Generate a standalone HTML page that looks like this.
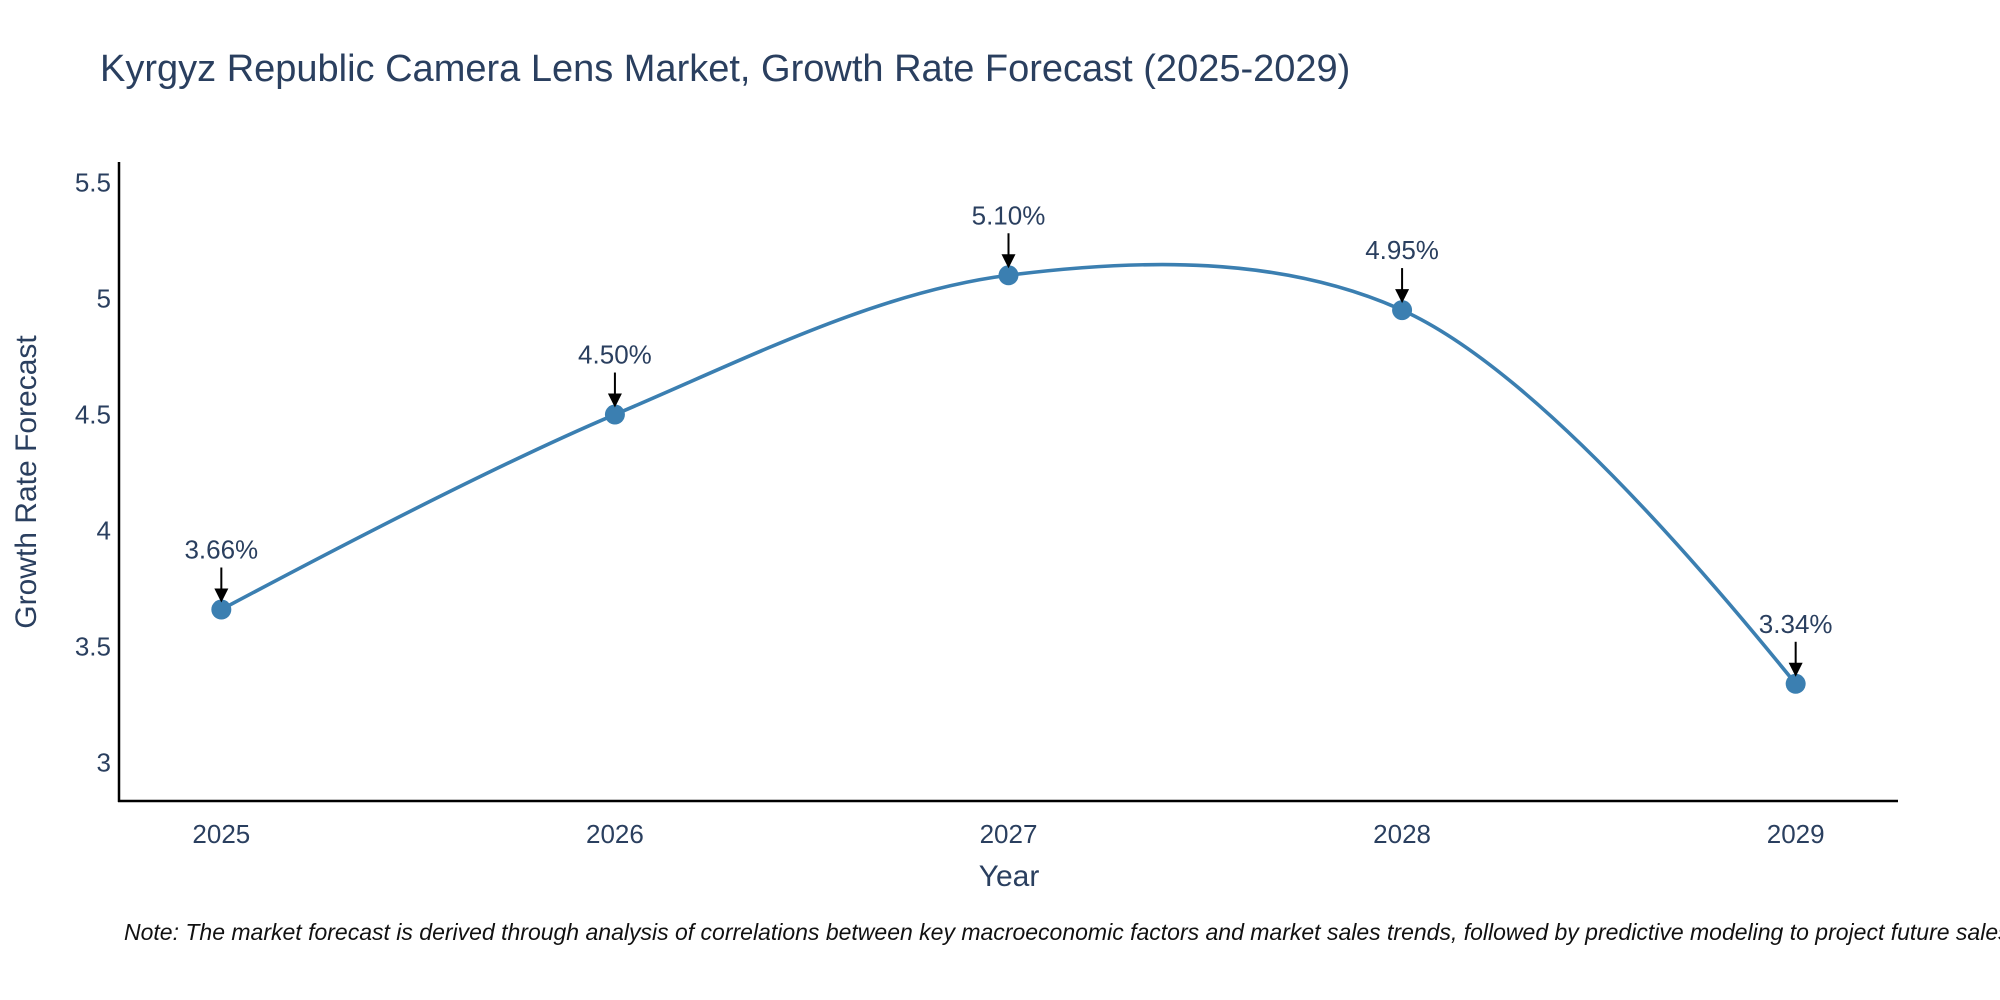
<!DOCTYPE html>
<html><head><meta charset="utf-8"><style>
html,body{margin:0;padding:0;background:#fff;}
svg{display:block;font-family:"Liberation Sans",sans-serif;}
</style></head><body>
<svg id="chart" width="2000" height="1000" viewBox="0 0 2000 1000">
<rect width="2000" height="1000" fill="#fff"/>
<text x="100" y="81" font-size="38" fill="#2a3f5f">Kyrgyz Republic Camera Lens Market, Growth Rate Forecast (2025-2029)</text>
<g id="axes"></g>
<g id="series"></g>
<g id="annots"></g>
<text x="1009" y="886" font-size="30" fill="#2a3f5f" text-anchor="middle">Year</text>
<text transform="translate(36,482) rotate(-90)" font-size="30" fill="#2a3f5f" text-anchor="middle">Growth Rate Forecast</text>
<text x="124" y="940" font-size="23" font-style="italic" fill="#111">Note: The market forecast is derived through analysis of correlations between key macroeconomic factors and market sales trends, followed by predictive modeling to project future sales.</text>
</svg>
<script>
const years = [2025, 2026, 2027, 2028, 2029];
const rates = [3.66, 4.50, 5.10, 4.95, 3.34];
const rateLabels = ["3.66%", "4.50%", "5.10%", "4.95%", "3.34%"];
const yTicks = [3, 3.5, 4, 4.5, 5, 5.5];
const yTickLabels = ["3", "3.5", "4", "4.5", "5", "5.5"];

const NS = "http://www.w3.org/2000/svg";
const L = 119, R = 1898, T = 162, B = 801;
const xMin = 2024.74, xMax = 2029.26, yMin = 2.835, yMax = 5.588;
const xs = v => L + (v - xMin) / (xMax - xMin) * (R - L);
const ys = v => B - (v - yMin) / (yMax - yMin) * (B - T);
function mk(tag, attrs, parent){const e=document.createElementNS(NS,tag);for(const k in attrs)e.setAttribute(k,attrs[k]);parent.appendChild(e);return e;}
const axes = document.getElementById('axes');
let el = mk('line',{x1:L,y1:T,x2:L,y2:B+1,stroke:'#000','stroke-width':2.5},axes);


el = mk('line',{x1:L-1,y1:B,x2:R,y2:B,stroke:'#000','stroke-width':2.5},axes);


yTicks.forEach((t,i)=>{
  const e = mk('text',{x:L-8,y:ys(t)+9,'font-size':26,fill:'#2a3f5f','text-anchor':'end'},axes);
  e.textContent = yTickLabels[i];
  
  
});
years.forEach(y=>{
  const e = mk('text',{x:xs(y),y:B+42,'font-size':26,fill:'#2a3f5f','text-anchor':'middle'},axes);
  e.textContent = String(y);
  
  
});
const P = years.map((y,i)=>[xs(y), ys(rates[i])]);
const s = 1;
let d = `M${P[0][0]},${P[0][1]}`;
const tang = [];
for(let i=0;i<P.length;i++){
  if(i===0||i===P.length-1){tang.push(null);continue;}
  const dx1=P[i][0]-P[i-1][0], dy1=P[i][1]-P[i-1][1], dx2=P[i+1][0]-P[i][0], dy2=P[i+1][1]-P[i][1];
  const d1=Math.sqrt(Math.hypot(dx1,dy1)), d2=Math.sqrt(Math.hypot(dx2,dy2));
  const numx=(d2*d2*dx1+d1*d1*dx2)*s, numy=(d2*d2*dy1+d1*d1*dy2)*s;
  const den1=3*d2*(d1+d2), den2=3*d1*(d1+d2);
  tang.push([[P[i][0]-numx/den1,P[i][1]-numy/den1],[P[i][0]+numx/den2,P[i][1]+numy/den2]]);
}
d += ` Q${tang[1][0][0]},${tang[1][0][1]} ${P[1][0]},${P[1][1]}`;
for(let i=1;i<P.length-2;i++){
  d += ` C${tang[i][1][0]},${tang[i][1][1]} ${tang[i+1][0][0]},${tang[i+1][0][1]} ${P[i+1][0]},${P[i+1][1]}`;
}
const n=P.length;
d += ` Q${tang[n-2][1][0]},${tang[n-2][1][1]} ${P[n-1][0]},${P[n-1][1]}`;
const series = document.getElementById('series');
el = mk('path',{d:d,fill:'none',stroke:'#3b7fb1','stroke-width':3.6},series);


P.forEach(p=>{
  const c = mk('circle',{cx:p[0],cy:p[1],r:10,fill:'#3b7fb1'},series);
  
  
});
const an = document.getElementById('annots');
P.forEach((p,i)=>{
  const l = mk('line',{x1:p[0],y1:p[1]-42,x2:p[0],y2:p[1]-20,stroke:'#000','stroke-width':2},an);
  
  
  const h = mk('polygon',{points:`${p[0]-7},${p[1]-21} ${p[0]+7},${p[1]-21} ${p[0]},${p[1]-7}`,fill:'#000'},an);
  
  
  const t = mk('text',{x:p[0],y:p[1]-51,'font-size':26,fill:'#2a3f5f','text-anchor':'middle'},an);
  t.textContent = rateLabels[i];
  
  
});
</script>
</body></html>
